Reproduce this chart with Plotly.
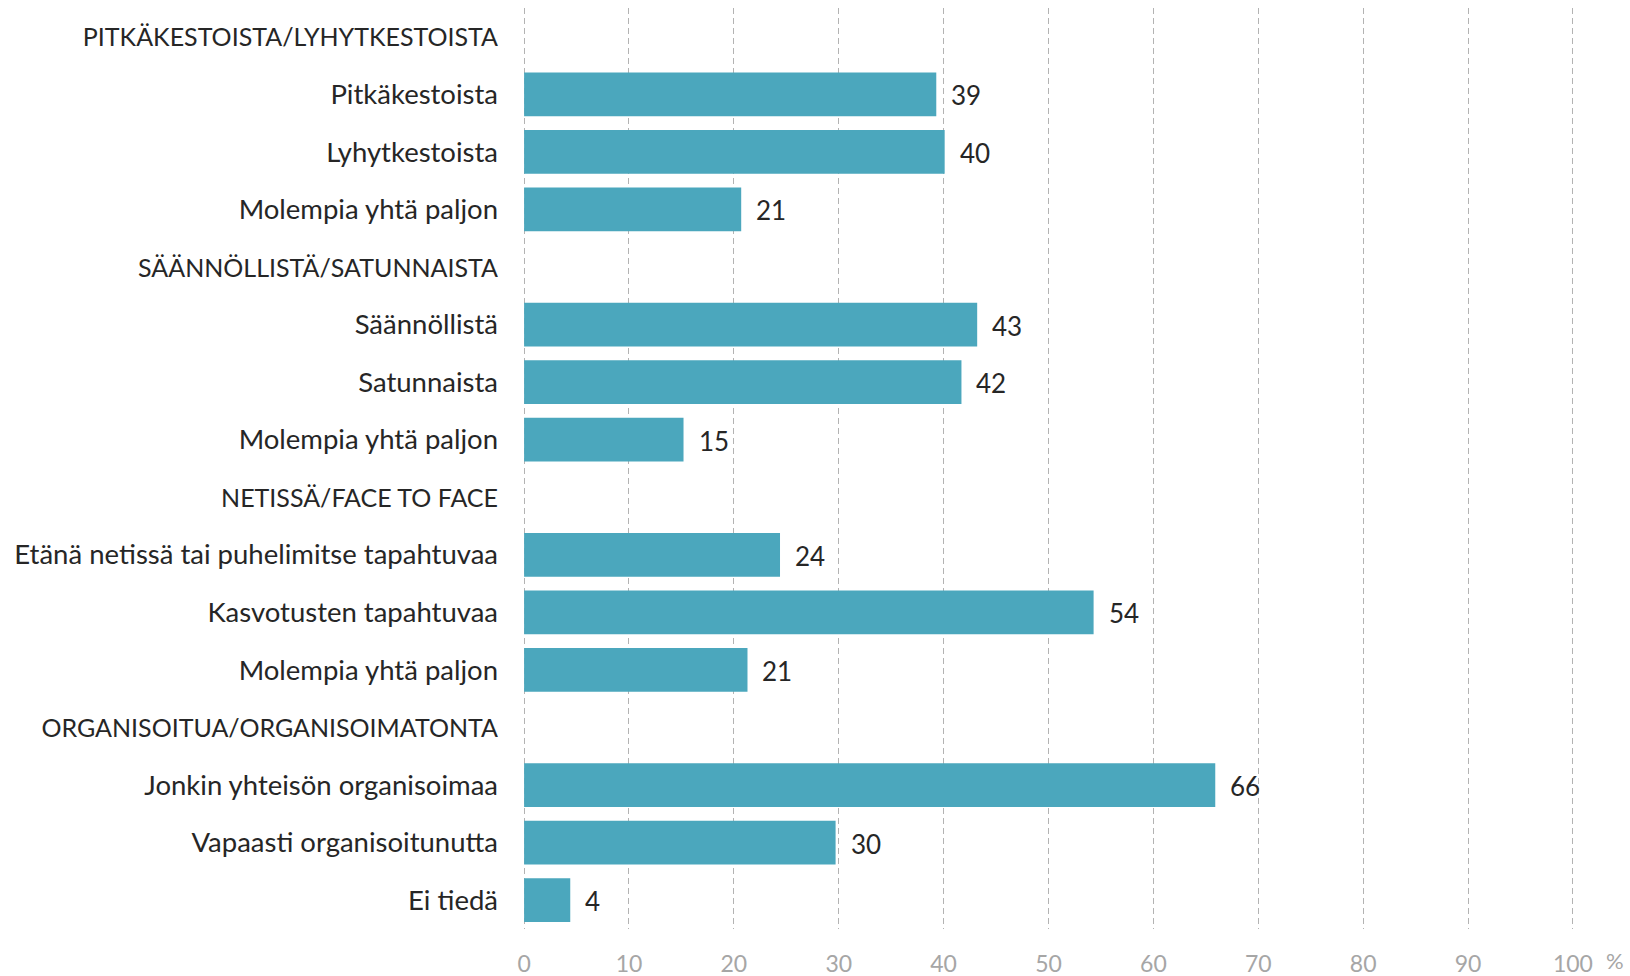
"""Horizontal bar chart: character of activity (%)."""

import plotly.graph_objects as go

# Row labels, top to bottom (group headers carry no value)
labels = [
    "PITKÄKESTOISTA/LYHYTKESTOISTA",
    "Pitkäkestoista",
    "Lyhytkestoista",
    "Molempia yhtä paljon",
    "SÄÄNNÖLLISTÄ/SATUNNAISTA",
    "Säännöllistä",
    "Satunnaista",
    "Molempia yhtä paljon",
    "NETISSÄ/FACE TO FACE",
    "Etänä netissä tai puhelimitse tapahtuvaa",
    "Kasvotusten tapahtuvaa",
    "Molempia yhtä paljon",
    "ORGANISOITUA/ORGANISOIMATONTA",
    "Jonkin yhteisön organisoimaa",
    "Vapaasti organisoitunutta",
    "Ei tiedä",
]

# Bar lengths (%), None for header rows
values = [
    None, 39.3, 40.1, 20.7,
    None, 43.2, 41.7, 15.2,
    None, 24.4, 54.3, 21.3,
    None, 65.9, 29.7, 4.4,
]

# Printed value labels
value_labels = [
    None, "39", "40", "21",
    None, "43", "42", "15",
    None, "24", "54", "21",
    None, "66", "30", "4",
]

x_ticks = [0, 10, 20, 30, 40, 50, 60, 70, 80, 90, 100]

BAR_COLOR = "#4BA7BD"
TEXT_COLOR = "#262626"
TICK_COLOR = "#A6A6A6"
FONT = "Lato"

rows = list(range(len(labels)))

# Group headers (no value) are set a little smaller than the item rows
tick_text = [
    f'<span style="font-size:25px">{lab}</span>' if val is None else lab
    for lab, val in zip(labels, values)
]

fig = go.Figure()

fig.add_trace(go.Bar(
    x=values,
    y=rows,
    orientation="h",
    width=0.76,
    marker=dict(color=BAR_COLOR, line=dict(width=0)),
    hoverinfo="skip",
    showlegend=False,
))

# Value labels just past the bar ends
for row, val, lab in zip(rows, values, value_labels):
    if val is None:
        continue
    fig.add_annotation(
        x=val,
        y=row,
        text=lab,
        showarrow=False,
        xanchor="left",
        yanchor="middle",
        xshift=13,
        yshift=-1,
        font=dict(family=FONT, size=26, color=TEXT_COLOR),
    )

# Unit sign after the last tick
fig.add_annotation(
    x=1.038,
    y=-0.017,
    xref="paper",
    yref="paper",
    text="%",
    showarrow=False,
    xanchor="center",
    yanchor="top",
    font=dict(family=FONT, size=22, color=TICK_COLOR),
)

fig.update_xaxes(
    range=[-0.2, 100.2],
    tickvals=x_ticks,
    ticktext=[str(t) for t in x_ticks],
    showgrid=True,
    gridcolor="#B3B3B3",
    gridwidth=1,
    griddash="6px,4px",
    zeroline=False,
    showline=False,
    ticks="",
    ticklabelstandoff=19,
    tickfont=dict(family=FONT, size=23, color=TICK_COLOR),
    fixedrange=True,
)

fig.update_yaxes(
    range=[len(labels) - 0.5, -0.5],
    tickvals=rows,
    ticktext=tick_text,
    showgrid=False,
    zeroline=False,
    showline=False,
    ticks="",
    ticklabelstandoff=23,
    tickfont=dict(family=FONT, size=27.5, color=TEXT_COLOR),
    fixedrange=True,
)

fig.update_layout(
    width=1630,
    height=976,
    margin=dict(l=522, r=55, t=8, b=47, autoexpand=False),
    plot_bgcolor="white",
    paper_bgcolor="white",
    bargap=0.24,
)

# Drop the browser's default body margin so the figure sits at the page corner
fig.write_html(
    "out.html",
    config={"displayModeBar": False},
    post_script="document.body.style.margin = '0';",
)
